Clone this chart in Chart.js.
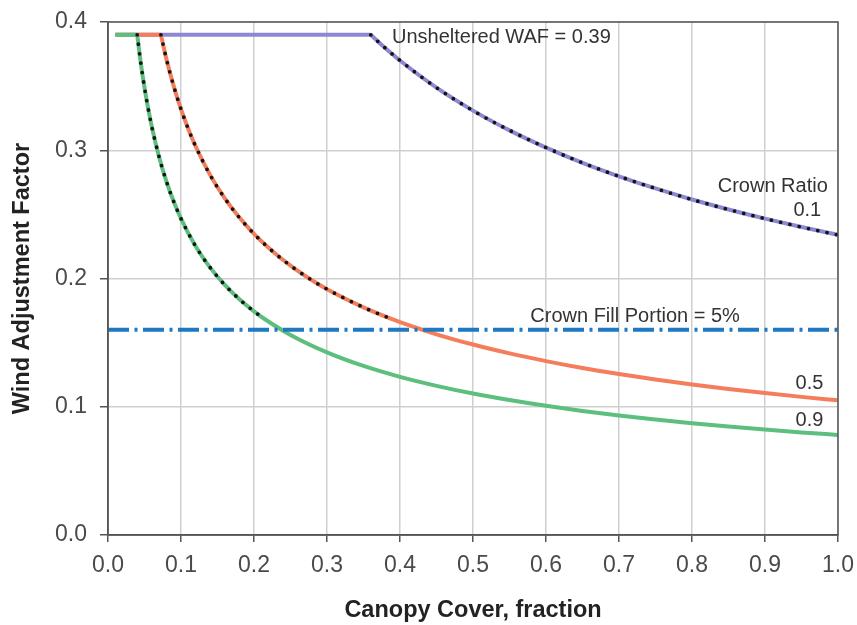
<!DOCTYPE html>
<html>
<head>
<meta charset="utf-8">
<script src="https://cdn.jsdelivr.net/npm/chart.js@4.4.1/dist/chart.umd.min.js"></script>
<style>
  html, body { margin: 0; padding: 0; background: #fff; }
  #wrap { width: 857px; height: 625px; }
</style>
</head>
<body>
<div id="wrap"><canvas id="wafChart"></canvas></div>
<script>
// canopy cover (x) and WAF (y), one pair per crown ratio
const coverCR01 = [0.01, 0.36, 0.375, 0.40, 0.45, 0.50, 0.55, 0.60, 0.65, 0.70, 0.75, 0.80, 0.85, 0.90, 0.95, 1.00];
const wafCR01   = [0.39, 0.39, 0.3821, 0.3700, 0.3488, 0.3309, 0.3155, 0.3021, 0.2902, 0.2797, 0.2702, 0.2616, 0.2538, 0.2467, 0.2401, 0.2340];

const coverCR05 = [0.01, 0.0725, 0.08, 0.09, 0.10, 0.11, 0.12, 0.14, 0.16, 0.18, 0.20, 0.225, 0.25, 0.275, 0.30, 0.35, 0.39, 0.40, 0.45, 0.50, 0.55, 0.60, 0.65, 0.70, 0.75, 0.80, 0.85, 0.90, 0.95, 1.00];
const wafCR05   = [0.39, 0.39, 0.3712, 0.3500, 0.3320, 0.3166, 0.3031, 0.2806, 0.2625, 0.2475, 0.2348, 0.2214, 0.2100, 0.2002, 0.1917, 0.1775, 0.1681, 0.1660, 0.1565, 0.1485, 0.1416, 0.1356, 0.1302, 0.1255, 0.1212, 0.1174, 0.1139, 0.1107, 0.1077, 0.1050];

const coverCR09 = [0.01, 0.04, 0.045, 0.05, 0.055, 0.06, 0.07, 0.08, 0.09, 0.10, 0.12, 0.14, 0.16, 0.18, 0.20, 0.215, 0.25, 0.30, 0.35, 0.40, 0.45, 0.50, 0.55, 0.60, 0.65, 0.70, 0.75, 0.80, 0.85, 0.90, 0.95, 1.00];
const wafCR09   = [0.39, 0.39, 0.3677, 0.3488, 0.3326, 0.3184, 0.2948, 0.2758, 0.2600, 0.2467, 0.2252, 0.2085, 0.1950, 0.1838, 0.1744, 0.1682, 0.1560, 0.1424, 0.1318, 0.1233, 0.1163, 0.1103, 0.1052, 0.1007, 0.0967, 0.0932, 0.0901, 0.0872, 0.0846, 0.0822, 0.0800, 0.0780];

// crown fill portion = 5% reference line
const fillCover = [0.0, 1.0];
const fillWaf   = [0.16, 0.16];

// the dotted overlay runs from the end of the flat part to this cover
const dottedEndCR01 = 1.00;
const dottedEndCR05 = 0.39;
const dottedEndCR09 = 0.215;

const xTickLabels = ['0.0', '0.1', '0.2', '0.3', '0.4', '0.5', '0.6', '0.7', '0.8', '0.9', '1.0'];
const yTickLabels = ['0.0', '0.1', '0.2', '0.3', '0.4'];

const toPoints = (xs, ys) => xs.map((x, i) => ({ x: x, y: ys[i] }));
// first two points = flat part at the unsheltered WAF, the rest = decline
const flatPart = (xs, ys) => toPoints(xs, ys).slice(0, 2);
const declinePart = (xs, ys) => toPoints(xs, ys).slice(1);
const dottedPart = (xs, ys, end) => declinePart(xs, ys).filter(p => p.x <= end);

const curveStyle = (color, order, smooth) => ({
    borderColor: color,
    borderWidth: 4,
    pointRadius: 0,
    cubicInterpolationMode: smooth ? 'monotone' : 'default',
    tension: 0,
    order: order
});
const dotStyle = {
    borderColor: '#141414',
    borderWidth: 3.8,
    borderDash: [0, 9.5],
    borderCapStyle: 'round',
    pointRadius: 0,
    cubicInterpolationMode: 'monotone',
    order: 0
};

const notes = [
    { text: 'Unsheltered WAF = 0.39', x: 0.389, y: 0.388, align: 'left' },
    { text: 'Crown Ratio', x: 0.986, y: 0.272, align: 'right' },
    { text: '0.1', x: 0.977, y: 0.253, align: 'right' },
    { text: 'Crown Fill Portion = 5%', x: 0.722, y: 0.170, align: 'center' },
    { text: '0.5', x: 0.980, y: 0.118, align: 'right' },
    { text: '0.9', x: 0.980, y: 0.089, align: 'right' }
];

const notesPlugin = {
    id: 'notes',
    afterDatasetsDraw(chart) {
        const { ctx, scales } = chart;
        ctx.save();
        ctx.font = '20px "Liberation Sans", Arial, sans-serif';
        ctx.fillStyle = '#333';
        ctx.textBaseline = 'middle';
        notes.forEach(n => {
            ctx.textAlign = n.align;
            ctx.fillText(n.text, scales.x.getPixelForValue(n.x), scales.y.getPixelForValue(n.y));
        });
        ctx.restore();
    }
};

// frame round the plot area (top and right edges too)
const framePlugin = {
    id: 'frame',
    afterDraw(chart) {
        const a = chart.chartArea;
        const ctx = chart.ctx;
        ctx.save();
        ctx.strokeStyle = '#555';
        ctx.lineWidth = 1.5;
        ctx.strokeRect(a.left, a.top, a.right - a.left, a.bottom - a.top);
        ctx.restore();
    }
};

const tickFont = { family: '"Liberation Sans", Arial, sans-serif', size: 23 };
const titleFont = { family: '"Liberation Sans", Arial, sans-serif', size: 23.5, weight: 'bold' };

new Chart(document.getElementById('wafChart'), {
    type: 'line',
    data: {
        datasets: [
            Object.assign({ data: flatPart(coverCR01, wafCR01) }, curveStyle('#8d88d4', 9, false)),
            Object.assign({ data: declinePart(coverCR01, wafCR01) }, curveStyle('#8d88d4', 8, true)),
            Object.assign({ data: flatPart(coverCR05, wafCR05) }, curveStyle('#f47d5c', 7, false)),
            Object.assign({ data: declinePart(coverCR05, wafCR05) }, curveStyle('#f47d5c', 6, true)),
            Object.assign({ data: flatPart(coverCR09, wafCR09) }, curveStyle('#5cbf7d', 5, false)),
            Object.assign({ data: declinePart(coverCR09, wafCR09) }, curveStyle('#5cbf7d', 4, true)),
            {
                data: toPoints(fillCover, fillWaf),
                borderColor: '#1f78c2',
                borderWidth: 4,
                borderDash: [21, 5.5, 3, 5.5],
                pointRadius: 0,
                order: 3
            },
            Object.assign({ data: dottedPart(coverCR01, wafCR01, dottedEndCR01) }, dotStyle),
            Object.assign({ data: dottedPart(coverCR05, wafCR05, dottedEndCR05) }, dotStyle),
            Object.assign({ data: dottedPart(coverCR09, wafCR09, dottedEndCR09) }, dotStyle)
        ]
    },
    options: {
        responsive: true,
        maintainAspectRatio: false,
        animation: false,
        layout: { padding: { left: 8, right: 19, top: 22, bottom: 0 } },
        plugins: { legend: { display: false }, tooltip: { enabled: false } },
        scales: {
            x: {
                type: 'linear',
                min: 0,
                max: 1,
                afterBuildTicks: s => { s.ticks = xTickLabels.map(t => ({ value: parseFloat(t) })); },
                afterFit: s => { s.height = 90; s.paddingLeft = 0; s.paddingRight = 0; },
                ticks: {
                    callback: (v, i) => xTickLabels[i],
                    font: tickFont,
                    color: '#4a4a4a',
                    padding: 10,
                    maxRotation: 0
                },
                grid: { color: '#cfcfcf', lineWidth: 1.5, tickColor: '#555', tickLength: 7 },
                border: { color: '#555', width: 1.5 },
                title: {
                    display: true,
                    text: 'Canopy Cover, fraction',
                    font: titleFont,
                    color: '#222',
                    padding: { top: 0, bottom: 0 }
                }
            },
            y: {
                type: 'linear',
                min: 0,
                max: 0.4,
                afterBuildTicks: s => { s.ticks = yTickLabels.map(t => ({ value: parseFloat(t) })); },
                afterFit: s => { s.width = 100; s.paddingTop = 0; s.paddingBottom = 0; },
                ticks: {
                    callback: (v, i) => yTickLabels[i],
                    font: tickFont,
                    color: '#4a4a4a',
                    padding: 13
                },
                grid: { color: '#cfcfcf', lineWidth: 1.5, tickColor: '#555', tickLength: 8 },
                border: { color: '#555', width: 1.5 },
                title: {
                    display: true,
                    text: 'Wind Adjustment Factor',
                    font: titleFont,
                    color: '#222',
                    padding: { top: 0, bottom: 0 }
                }
            }
        }
    },
    plugins: [notesPlugin, framePlugin]
});
</script>
</body>
</html>
